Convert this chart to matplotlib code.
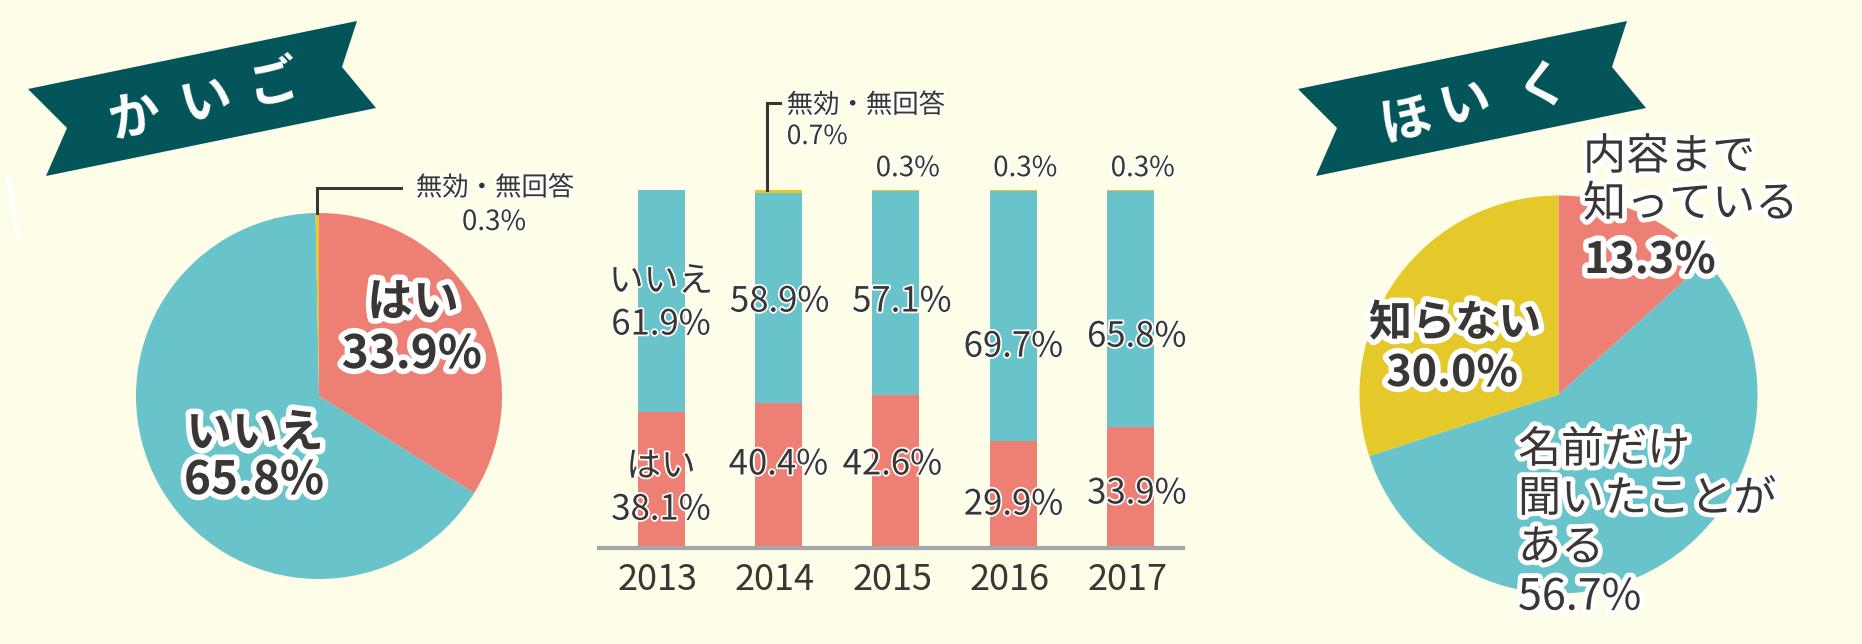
import matplotlib.pyplot as plt
import matplotlib.patheffects as pe
from matplotlib.patches import Polygon

plt.rcParams['font.family'] = ['Noto Sans CJK JP', 'DejaVu Sans']

# colours
BG = '#FEFDE7'
RED = '#EE7F75'
TEAL = '#68C4CA'
YELLOW = '#E5C92B'
DARK = '#03555A'
TEXT = '#3A3636'
GRAY = '#A6A6A6'

# かいご (left pie)
kaigo_title = 'かいご'
kaigo_labels = ['はい', 'いいえ', '無効・無回答']
kaigo_values = [33.9, 65.8, 0.3]

# かいご by year (stacked bars)
years = ['2013', '2014', '2015', '2016', '2017']
yes_vals = [38.1, 40.4, 42.6, 29.9, 33.9]
no_vals = [61.9, 58.9, 57.1, 69.7, 65.8]
na_vals = [0.0, 0.7, 0.3, 0.3, 0.3]

# ほいく (right pie)
hoiku_title = 'ほいく'
hoiku_labels = ['内容まで\n知っている', '名前だけ\n聞いたことが\nある', '知らない']
hoiku_values = [13.3, 56.7, 30.0]

W, H = 1862, 644
fig = plt.figure(figsize=(W / 100, H / 100), dpi=100, facecolor=BG)


def px_axes(x0, y0, x1, y1, z=1):
    # axes placed by a pixel box, origin top-left
    ax = fig.add_axes([x0 / W, 1 - y1 / H, (x1 - x0) / W, (y1 - y0) / H], zorder=z)
    ax.patch.set_visible(False)
    return ax


def stroke(w):
    return [pe.withStroke(linewidth=w, foreground='white')]


# ---- left pie ----
ax1 = px_axes(136, 213, 502, 579)
ax1.pie(kaigo_values, colors=[RED, TEAL, YELLOW], startangle=90, counterclock=False,
        wedgeprops=dict(linewidth=0))
ax1.set_xlim(-1, 1)
ax1.set_ylim(-1, 1)
ax1.set_aspect('auto')
ax1.axis('off')
# leader to the tiny slice
lx = -0.01
ax1.plot([lx, lx, 0.45], [1.0, 1.137, 1.137], color=TEXT, lw=2.2, clip_on=False,
         solid_joinstyle='miter')

# ---- bars ----
ax2 = px_axes(599, 190, 1183, 548)
x = list(range(len(years)))
ax2.bar(x, yes_vals, width=0.4, color=RED, linewidth=0)
ax2.bar(x, no_vals, width=0.4, bottom=yes_vals, color=TEAL, linewidth=0)
tops = [a + b for a, b in zip(yes_vals, no_vals)]
ax2.bar(x, na_vals, width=0.4, bottom=tops, color=YELLOW, linewidth=0)
ax2.set_xlim(-0.528, 4.443)
ax2.set_ylim(0, 100)
ax2.axis('off')
ax2.axhline(0, color=GRAY, lw=3, clip_on=False, zorder=5)

no_y = [68.3, 68.7, 68.7, 56.1, 58.9]
no_dx = [0.0, 0.01, 0.05, 0.0, 0.05]
yes_y = [16.6, 23.2, 23.2, 12.0, 15.1]
yes_dx = [0.0, 0.0, -0.03, 0.0, 0.05]
for i in x:
    t_no = f'{no_vals[i]}%'
    t_yes = f'{yes_vals[i]}%'
    if i == 0:
        t_no = f'{kaigo_labels[1]}\n{t_no}'
        t_yes = f'{kaigo_labels[0]}\n{t_yes}'
    ax2.text(i + no_dx[i], no_y[i], t_no, ha='center', va='center', fontsize=25,
             color=TEXT, linespacing=1.3, path_effects=stroke(2.5), zorder=6)
    ax2.text(i + yes_dx[i], yes_y[i], t_yes, ha='center', va='center', fontsize=25,
             color=TEXT, linespacing=1.3, path_effects=stroke(2.5), zorder=6)
    ax2.text(i - 0.03, -9, years[i], ha='center', va='center', fontsize=26, color=TEXT)
    if na_vals[i] > 0:
        if i == 1:
            ax2.text(i + 0.07, 119.3, f'{kaigo_labels[2]}\n{na_vals[i]}%', ha='left',
                     va='center', fontsize=19, color=TEXT, linespacing=1.2,
                     path_effects=stroke(2.5), clip_on=False)
            ax2.plot([i - 0.1, i - 0.1, i + 0.015], [tops[i] + na_vals[i], 124.3, 124.3],
                     color=TEXT, lw=2.2, clip_on=False, solid_joinstyle='miter')
        else:
            ax2.text(i + 0.1, 106.1, f'{na_vals[i]}%', ha='center', va='center',
                     fontsize=20, color=TEXT, path_effects=stroke(2.5), clip_on=False)

# ---- right pie ----
ax3 = px_axes(1359.5, 195.5, 1757.5, 593.5)
ax3.pie(hoiku_values, colors=[RED, TEAL, YELLOW], startangle=90, counterclock=False,
        wedgeprops=dict(linewidth=0))
ax3.set_xlim(-1, 1)
ax3.set_ylim(-1, 1)
ax3.set_aspect('auto')
ax3.axis('off')

# ---- overlay in pixel space: banners and pie labels ----
ov = px_axes(0, 0, W, H, z=10)
ov.set_xlim(0, W)
ov.set_ylim(H, 0)
ov.axis('off')

banner = [(28, 89), (357, 21), (342, 67), (376, 108), (46, 176), (67, 128)]
for dx, title, pos in [(0, kaigo_title, [(134, 117), (206, 100), (273, 83)]),
                       (1270, hoiku_title, [(1405, 120), (1465, 103), (1542, 86)])]:
    ov.add_patch(Polygon([(bx + dx, by) for bx, by in banner], closed=True,
                         facecolor=DARK, edgecolor='none'))
    for ch, (cx, cy) in zip(title, pos):
        ov.text(cx, cy, ch, ha='center', va='center', fontsize=37, fontweight='bold',
                color='white', rotation=13)

ov.plot([8, 19], [177, 240], color='white', lw=3, solid_capstyle='butt')

# left pie labels
ov.text(413, 303, kaigo_labels[0], ha='center', va='center', fontsize=33,
        fontweight='bold', color=TEXT, path_effects=stroke(8))
ov.text(412, 355, f'{kaigo_values[0]}%', ha='center', va='center', fontsize=33,
        fontweight='bold', color=TEXT, path_effects=stroke(8))
ov.text(255, 434, kaigo_labels[1], ha='center', va='center', fontsize=33,
        fontweight='bold', color=TEXT, path_effects=stroke(8))
ov.text(254, 481, f'{kaigo_values[1]}%', ha='center', va='center', fontsize=33,
        fontweight='bold', color=TEXT, path_effects=stroke(8))
ov.text(495, 188, kaigo_labels[2], ha='center', va='center', fontsize=19,
        color=TEXT, path_effects=stroke(2.5))
ov.text(494, 222, f'{kaigo_values[2]}%', ha='center', va='center', fontsize=20,
        color=TEXT, path_effects=stroke(2.5))

# right pie labels
ov.text(1583, 181, hoiku_labels[0], ha='left', va='center', fontsize=31,
        color=TEXT, linespacing=1.1, path_effects=stroke(7))
ov.text(1584, 260, f'{hoiku_values[0]}%', ha='left', va='center', fontsize=31,
        fontweight='bold', color=TEXT, path_effects=stroke(8))
ov.text(1455, 323, hoiku_labels[2], ha='center', va='center', fontsize=31,
        fontweight='bold', color=TEXT, path_effects=stroke(8))
ov.text(1452, 373, f'{hoiku_values[2]}%', ha='center', va='center', fontsize=31,
        fontweight='bold', color=TEXT, path_effects=stroke(8))
ov.text(1518, 524, f'{hoiku_labels[1]}\n{hoiku_values[1]}%', ha='left', va='center',
        fontsize=31, color=TEXT, linespacing=1.15, path_effects=stroke(7))

fig.savefig('out.png', dpi=100, facecolor=BG)
